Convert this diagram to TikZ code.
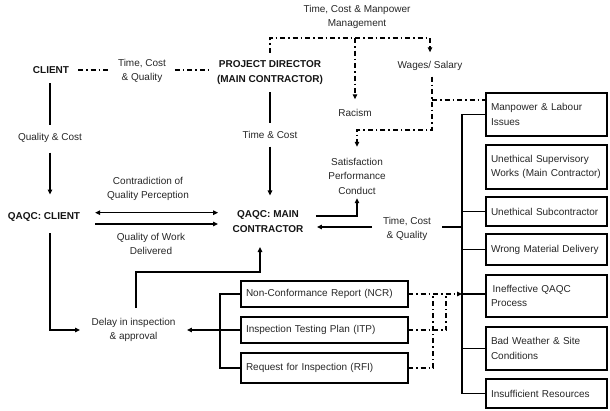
\documentclass[tikz,border=0pt]{standalone}
\usepackage{fontspec}
\setmainfont{Liberation Sans}
\usetikzlibrary{arrows.meta}
\begin{document}
\begin{tikzpicture}[x=1pt,y=-1pt,
  every node/.style={inner sep=0pt, outer sep=0pt, text=black!85},
  lbl/.style={font=\fontsize{10}{14.5}\selectfont, align=center},
  hdr/.style={font=\fontsize{10}{15}\selectfont\bfseries, align=center, text=black!92},
  cause/.style={draw=black, line width=1.6pt, font=\fontsize{10}{14.5}\selectfont,
    align=left, text width=111pt, inner xsep=5pt, minimum width=121pt, anchor=north west},
  doc/.style={draw=black, line width=1.6pt, font=\fontsize{10}{14.5}\selectfont,
    align=left, text width=157pt, inner xsep=5pt, minimum width=167pt, anchor=north west},
  ln/.style={line width=1.3pt, draw=black},
  dd/.style={line width=1.1pt, draw=black, dash pattern=on 5pt off 3pt on 1.5pt off 3pt},
  tip/.style={-{Triangle[length=5pt,width=4.5pt]}},
]
\useasboundingbox (0,0) rectangle (610,410);

% ---- labels ----
\node[hdr] (client) at (51,70) {CLIENT};
\node[lbl] (tcq1) at (142,71) {Time, Cost\\\& Quality};
\node[hdr] (pd) at (270,73) {PROJECT DIRECTOR\\(MAIN CONTRACTOR)};
\node[lbl] (tcm) at (357,17) {Time, Cost \& Manpower\\Management};
\node[lbl] (wages) at (430,66) {Wages/ Salary};
\node[lbl] (racism) at (355,113) {Racism};
\node[lbl] (sat) at (357,176) {Satisfaction\\Performance\\Conduct};
\node[lbl] (tc) at (270,135) {Time \& Cost};
\node[lbl] (qcost) at (50,138) {Quality \& Cost};
\node[hdr] (qc) at (44,217) {QAQC: CLIENT};
\node[lbl] (contra) at (148,189) {Contradiction of\\Quality Perception};
\node[lbl] (qwd) at (151,244) {Quality of Work\\Delivered};
\node[hdr] (qm) at (268,221.5) {QAQC: MAIN\\CONTRACTOR};
\node[lbl] (tcq2) at (407,229) {Time, Cost\\\& Quality};
\node[lbl] (delay) at (133.5,330) {Delay in inspection\\\& approval};

% ---- causes ----
\node[cause, minimum height=43pt] (m1) at (486,93) {Manpower \& Labour\\Issues};
\node[cause, minimum height=44pt] (m2) at (486,145) {Unethical Supervisory\\Works (Main Contractor)};
\node[cause, minimum height=29pt] (m3) at (486,197) {Unethical Subcontractor};
\node[cause, minimum height=31pt] (m4) at (486,234) {Wrong Material Delivery};
\node[cause, minimum height=42pt] (m5) at (486,275) {\,Ineffective QAQC\\Process};
\node[cause, minimum height=43pt] (m6) at (486,327) {Bad Weather \& Site\\Conditions};
\node[cause, minimum height=29pt] (m7) at (486,379) {Insufficient Resources};

% ---- inspection documents ----
\node[doc, minimum height=26pt] (ncr) at (241,281) {Non-Conformance Report (NCR)};
\node[doc, minimum height=26pt] (itp) at (241,317) {Inspection Testing Plan (ITP)};
\node[doc, minimum height=30pt] (rfi) at (241,353) {Request for Inspection (RFI)};

% ---- junction points ----
\coordinate (tk) at (462,0);
\coordinate (top) at (0,38);
\coordinate (wj) at (432,130);
\coordinate (mj) at (432,100);
\coordinate (j1) at (446,294);
\coordinate (j2) at (433,294);

% ---- management (dash-dot) links ----
\draw[dd, shorten <=9pt, shorten >=8pt] (client.east) -- (client.east -| tcq1.west);
\draw[dd, shorten <=9pt, shorten >=5pt] (tcq1.east |- client) -- (pd.west |- client);
\draw[dd, tip] ([yshift=8pt]pd.north) -- (pd.north |- top) -- (wages.north |- top) -- ([yshift=9pt]wages.north);
\draw[dd, tip] (racism.north |- top) -- ([yshift=10pt]racism.north);
\draw[dd, tip] ([yshift=-6pt]wages.south -| wj) -- (wj) -- (wj -| sat.north) -- ([yshift=11pt]sat.north);
\draw[dd] (mj) -- (mj -| m1.west);

% ---- main flow ----
\draw[ln, shorten <=7pt, shorten >=8pt] (pd.south) -- (pd.south |- tc.north);
\draw[ln, tip, shorten <=8pt, shorten >=15pt] (tc.south) -- (tc.south |- qm.north);
\draw[ln, shorten <=9.5pt, shorten >=8.3pt] (qcost.north |- client.south) -- (qcost.north);
\draw[ln, tip, shorten <=10pt, shorten >=18pt] (qcost.south) -- (qcost.south |- qc.north);
\draw[ln, {Triangle[length=5pt,width=4.5pt]}-{Triangle[length=5pt,width=4.5pt]},
  shorten <=15pt, shorten >=14.5pt] ([yshift=4.3pt]qc.east) -- ([yshift=4.3pt]qc.east -| qm.west);
\draw[ln, tip, shorten <=15pt, shorten >=14.5pt] ([yshift=-7pt]qc.east) -- ([yshift=-7pt]qc.east -| qm.west);
\draw[ln, tip, shorten >=11.5pt] ([yshift=-12pt]qcost.south |- qc.south) |- (delay.west);
\draw[ln, tip] ([xshift=2.5pt,yshift=10pt]delay.north) -- ++(0,-36) -| ([xshift=-8pt,yshift=-14.5pt]qm.south);
\draw[ln, tip] ([xshift=12.5pt,yshift=5.5pt]qm.east) -| ([yshift=-4pt]sat.south);
\draw[ln, tip, shorten <=11pt, shorten >=13.5pt] ([yshift=2pt]tcq2.west) -- ([yshift=2pt]tcq2.west -| qm.east);
\draw[ln, shorten >=11pt] ([yshift=2pt]tcq2.east -| tk) -- ([yshift=2pt]tcq2.east);

% ---- trunk to the causes ----
\draw[ln] (m1.west) -- (m1.west -| tk) -- (m7.west -| tk) -- (m7.west);
\draw[ln] (m3.west) -- (m3.west -| tk);
\draw[ln] (m4.west) -- (m4.west -| tk);
\draw[ln] (m5.west |- ncr.east) -- (ncr.east -| tk);
\draw[ln] (m6.west) -- (m6.west -| tk);

% ---- documents bracket ----
\draw[ln] (ncr.west) -- ++(-21,0) |- (rfi.west);
\draw[ln, tip, shorten >=11.5pt] (itp.west) -- (itp.west -| delay.east);
\draw[dd, tip] (ncr.east) -- (ncr.east -| tk);
\draw[dd] (itp.east) -| (j1);
\draw[dd] (rfi.east) -| (j2);
\end{tikzpicture}
\end{document}
